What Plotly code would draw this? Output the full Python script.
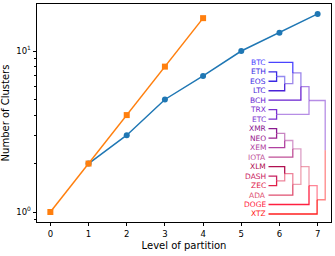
import plotly.graph_objects as go

# ---- data ----
blue_levels = [1, 2, 3, 4, 5, 6, 7]
blue_clusters = [2, 3, 5, 7, 10, 13, 17]
orange_levels = [0, 1, 2, 3, 4]
orange_clusters = [1, 2, 4, 8, 16]

leaves = ["BTC", "ETH", "EOS", "LTC", "BCH", "TRX", "ETC", "XMR", "NEO",
          "XEM", "IOTA", "XLM", "DASH", "ZEC", "ADA", "DOGE", "XTZ"]
leaf_colors = ["#4a44ff", "#3a2ae4", "#3a2ae4", "#4a22d8", "#6a22d0", "#7a30d0",
               "#7a30d0", "#8a1a90", "#9a2090", "#b040a0", "#c05098", "#b01050",
               "#c82060", "#e02048", "#e05070", "#ff2040", "#ff2020"]
# merges: (child a, child b, level); children are leaf names or merge indices
merges = [("ETH", "EOS", 1), (0, "LTC", 2), ("BTC", 1, 3), (2, "BCH", 4),
          ("TRX", "ETC", 1), (3, 4, 5), ("XMR", "NEO", 1), (6, "XEM", 2),
          (7, "IOTA", 3), ("DASH", "ZEC", 1), ("XLM", 9, 2), (10, "ADA", 3),
          (8, 11, 4), (12, "DOGE", 5), (13, "XTZ", 6), (5, 14, 7)]

leaf_color_map = dict(zip(leaves, leaf_colors))

FONT = "DejaVu Sans"
fig = go.Figure()

fig.add_trace(go.Scatter(x=blue_levels, y=blue_clusters, mode="lines+markers",
                         line=dict(color="#1f77b4", width=1.5),
                         marker=dict(symbol="circle", size=6, color="#1f77b4"),
                         showlegend=False))
fig.add_trace(go.Scatter(x=orange_levels, y=orange_clusters, mode="lines+markers",
                         line=dict(color="#ff7f0e", width=1.5),
                         marker=dict(symbol="square", size=6, color="#ff7f0e"),
                         showlegend=False))

# ---- dendrogram ----
def hex_rgba(h, a):
    h = h.lstrip("#")
    return "rgba(%d,%d,%d,%.2f)" % (int(h[0:2], 16), int(h[2:4], 16), int(h[4:6], 16), a)

node_y, node_h, node_col = {}, {}, {}
for i, name in enumerate(leaves):
    node_y[name] = i
    node_h[name] = 0
    node_col[name] = hex_rgba(leaf_color_map[name], 1.0)

def bottom_leaf(c):
    if isinstance(c, str):
        return c
    a, b, _ = merges[c]
    return max(bottom_leaf(a), bottom_leaf(b), key=lambda n: node_y[n])

for k, (a, b, lev) in enumerate(merges):
    ym = (node_y[a] + node_y[b]) / 2
    for c in (a, b):
        fig.add_trace(go.Scatter(x=[node_h[c], lev, lev], y=[node_y[c], node_y[c], ym],
                                 mode="lines", line=dict(color=node_col[c], width=1.3),
                                 xaxis="x2", yaxis="y2", showlegend=False, hoverinfo="skip"))
    node_y[k] = ym
    node_h[k] = lev
    node_col[k] = hex_rgba(leaf_color_map[bottom_leaf(k)], 0.55)

for name in leaves:
    fig.add_annotation(x=0, y=node_y[name], xref="x2", yref="y2", text=name,
                       showarrow=False, xanchor="right", yanchor="middle", xshift=-1,
                       font=dict(family=FONT, size=7.5, color=leaf_color_map[name]))

axis_common = dict(showline=True, linecolor="black", linewidth=0.9, mirror=True,
                   ticks="outside", ticklen=3.5, tickwidth=0.8, tickcolor="black",
                   showgrid=False, zeroline=False, automargin=False,
                   tickfont=dict(family=FONT, size=8.5, color="black"))

fig.update_layout(
    width=335, height=256,
    margin=dict(l=37, r=4, t=4, b=34),
    paper_bgcolor="white", plot_bgcolor="white",
    xaxis=dict(range=[-0.35, 7.35], tickvals=list(range(8)),
               title=dict(text="Level of partition", font=dict(family=FONT, size=10, color="black"), standoff=4),
               **axis_common),
    yaxis=dict(type="log", range=[-0.062, 1.292], tickvals=[1, 10],
               ticktext=["10<sup>0</sup>", "10<sup>1</sup>"],
               minor=dict(ticks="outside", ticklen=2, tickwidth=0.6, tickcolor="black",
                          tickvals=[0.9, 2, 3, 4, 5, 6, 7, 8, 9]),
               title=dict(text="Number of Clusters", font=dict(family=FONT, size=10, color="black"), standoff=4),
               **axis_common),
    xaxis2=dict(domain=[0.75, 0.99], range=[-1.358, 7.353], anchor="y2",
                visible=False),
    yaxis2=dict(domain=[0.015, 0.7543], range=[16.5, -0.5], anchor="x2",
                visible=False),
)

fig.write_html("out.html", config={"displayModeBar": False},
               post_script="document.body.style.margin='0';")
